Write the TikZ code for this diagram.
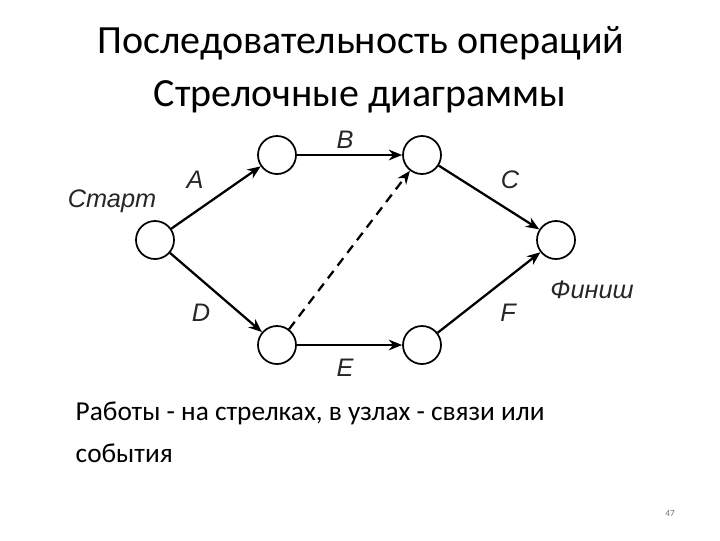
\documentclass[tikz,border=0pt]{standalone}
\usepackage{fontspec}
\setmainfont{Carlito}
\newfontfamily\arialf{Liberation Sans}
\usetikzlibrary{arrows.meta}
\begin{document}
\begin{tikzpicture}[x=0.75pt,y=-0.75pt,
  ev/.style={circle,draw,line width=1.3pt,minimum size=28.5pt,inner sep=0pt},
  act/.style={line width=1.7pt,-{Stealth[length=10pt,width=8pt]}},
  lbl/.style={font=\arialf\itshape\fontsize{19}{22}\selectfont,text=black!85}]
\useasboundingbox (0,0) rectangle (720,540);
\node (t1) at (361,43) {\fontsize{30}{36}\selectfont Последовательность операций};
\node (t2) at (360,97) {\fontsize{30}{36}\selectfont Стрелочные диаграммы};
\node[ev] (s) at (155,240) {};
\node[ev] (u1) at (277,155) {};
\node[ev] (u2) at (422,155) {};
\node[ev] (f) at (556,240) {};
\node[ev] (d1) at (277,345) {};
\node[ev] (d2) at (422,345) {};
\draw[act] (s) -- (u1);
\draw[act] (u1) -- (u2);
\draw[act] (u2) -- (f);
\draw[act] (s) -- (d1);
\draw[act] (d1) -- (d2);
\draw[act] (d2) -- (f);
\draw[act,dashed,dash pattern=on 7pt off 5pt] (d1) -- (u2);
\node[lbl] (ls) at (112,201) {Старт};
\node[lbl] (la) at (195,180) {A};
\node[lbl] (lb) at (345,140) {B};
\node[lbl] (lc) at (510,180) {C};
\node[lbl] (ld) at (201,313) {D};
\node[lbl] (le) at (345,368) {E};
\node[lbl] (lf) at (508,313) {F};
\node[lbl] (lfin) at (592,290) {Финиш};
\node[anchor=west,align=left,font=\fontsize{20.5}{31.5}\selectfont] (txt) at (71,432) {Работы - на стрелках, в узлах - связи или\\события};
\node[font=\fontsize{7}{8}\selectfont,text=black!55] (pg) at (670,513) {47};
\end{tikzpicture}
\end{document}
